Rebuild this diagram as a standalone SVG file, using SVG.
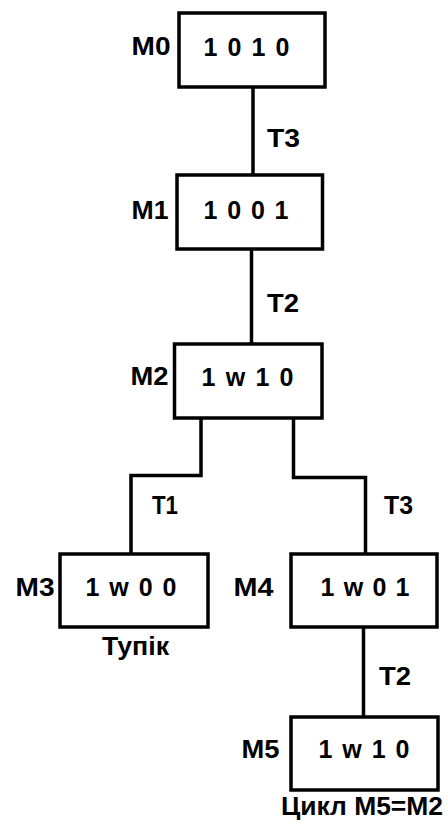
<svg xmlns="http://www.w3.org/2000/svg" width="448" height="824" viewBox="0 0 448 824">
  <style>
    .box { fill: #fff; stroke: #000; stroke-width: 3.5; }
    .wire { fill: none; stroke: #000; stroke-width: 3.5; stroke-linejoin: miter; stroke-linecap: square; }
    text { font-family: "Liberation Sans", Arial, sans-serif; font-weight: bold; font-size: 25px; fill: #000; }
  </style>
  <rect width="448" height="824" fill="#fff"/>

  <!-- connectors between markings -->
  <g id="connectors">
    <path class="wire" d="M253 87 V175"/>
    <path class="wire" d="M251.5 249 V344"/>
    <path class="wire" d="M201 418 V475.5 H131 V554"/>
    <path class="wire" d="M293.5 418 V477.5 H365.5 V554"/>
    <path class="wire" d="M363.5 627 V717"/>
  </g>

  <!-- transition labels -->
  <g id="transitions">
    <text x="267" y="147" textLength="33" lengthAdjust="spacingAndGlyphs">T3</text>
    <text x="267" y="312" textLength="32" lengthAdjust="spacingAndGlyphs">T2</text>
    <text x="152" y="514" textLength="26" lengthAdjust="spacingAndGlyphs">T1</text>
    <text x="384" y="514" textLength="29" lengthAdjust="spacingAndGlyphs">T3</text>
    <text x="379" y="685" textLength="32" lengthAdjust="spacingAndGlyphs">T2</text>
  </g>

  <g id="M0">
    <rect class="box" x="179" y="13" width="146" height="74"/>
    <text x="131.5" y="55" textLength="39" lengthAdjust="spacingAndGlyphs">M0</text>
    <text x="203.5" y="56" textLength="86" lengthAdjust="spacing">1 0 1 0</text>
  </g>

  <g id="M1">
    <rect class="box" x="177" y="175" width="145.5" height="74"/>
    <text x="131.5" y="219" textLength="37" lengthAdjust="spacingAndGlyphs">M1</text>
    <text x="203.5" y="219" textLength="85" lengthAdjust="spacing">1 0 0 1</text>
  </g>

  <g id="M2">
    <rect class="box" x="174.5" y="344" width="147.5" height="74"/>
    <text x="130.5" y="385" textLength="38" lengthAdjust="spacingAndGlyphs">M2</text>
    <text x="201.5" y="386" textLength="92" lengthAdjust="spacing">1 w 1 0</text>
  </g>

  <g id="M3">
    <rect class="box" x="60" y="554" width="148" height="73"/>
    <text x="15.5" y="596" textLength="39" lengthAdjust="spacingAndGlyphs">M3</text>
    <text x="85.5" y="596" textLength="91" lengthAdjust="spacing">1 w 0 0</text>
    <text x="102" y="655" textLength="67" lengthAdjust="spacingAndGlyphs">Тупік</text>
  </g>

  <g id="M4">
    <rect class="box" x="291" y="554" width="146" height="73"/>
    <text x="233.5" y="596" textLength="40" lengthAdjust="spacingAndGlyphs">M4</text>
    <text x="320.5" y="596" textLength="89" lengthAdjust="spacing">1 w 0 1</text>
  </g>

  <g id="M5">
    <rect class="box" x="291" y="717" width="147" height="73"/>
    <text x="241.5" y="758" textLength="38" lengthAdjust="spacingAndGlyphs">M5</text>
    <text x="318.5" y="758" textLength="91" lengthAdjust="spacing">1 w 1 0</text>
    <text x="281" y="815" textLength="162" lengthAdjust="spacingAndGlyphs">Цикл M5=M2</text>
  </g>
</svg>
